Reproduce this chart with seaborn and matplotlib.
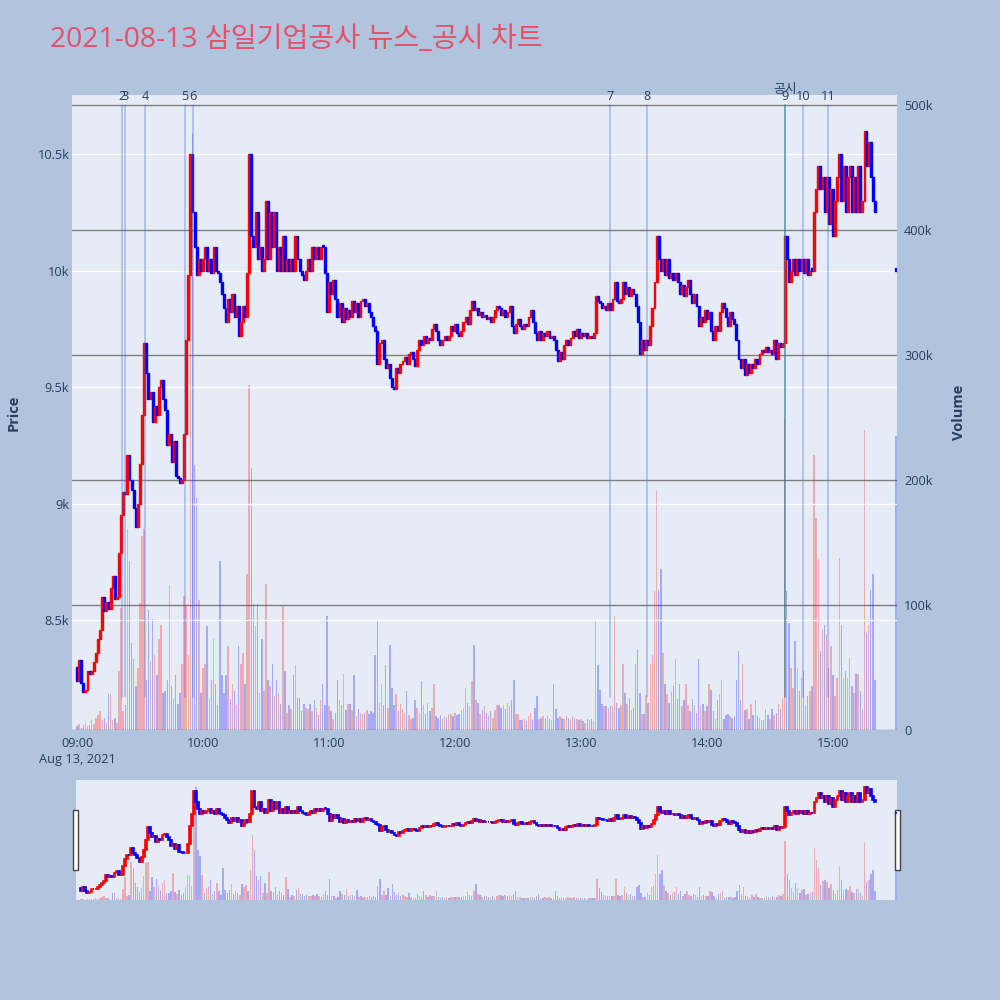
import numpy as np
import pandas as pd
import matplotlib
matplotlib.use("Agg")
import matplotlib.pyplot as plt
import matplotlib.transforms as mtransforms
from matplotlib.patches import Rectangle
import seaborn as sns

# ---- data: 1-minute closes (won), 09:00 .. 15:20, then the 15:30 closing auction ----
trade_date = "2021-08-13"
first_open = 8300
close_px = [
    8240, 8330, 8230, 8190, 8200, 8280, 8270, 8280, 8320, 8360,
    8420, 8460, 8600, 8540, 8580, 8550, 8640, 8690, 8590, 8600,
    8790, 8950, 9050, 9040, 9210, 9100, 9060, 8980, 8900, 9000,
    9170, 9380, 9690, 9560, 9450, 9480, 9350, 9420, 9380, 9500,
    9530, 9450, 9400, 9250, 9300, 9180, 9270, 9120, 9110, 9090,
    9100, 9300, 9700, 9980, 10500, 10250, 10100, 9980, 10050, 10000,
    10050, 10100, 10000, 10050, 9990, 10100, 10000, 9990, 9950, 9900,
    9840, 9780, 9880, 9820, 9900, 9800, 9850, 9720, 9780, 9850,
    9800, 9990, 10500, 10150, 10100, 10250, 10050, 10100, 10000, 10050,
    10300, 10050, 10250, 10100, 10250, 10000, 10100, 10000, 10150, 10000,
    10050, 10000, 10050, 10000, 10150, 10050, 10000, 9980, 9960, 10000,
    10050, 10000, 10100, 10050, 10100, 10050, 10100, 10100, 9990, 9820,
    9950, 9900, 9960, 9880, 9800, 9860, 9780, 9840, 9790, 9830,
    9800, 9870, 9820, 9860, 9800, 9870, 9880, 9850, 9860, 9820,
    9800, 9760, 9740, 9600, 9690, 9700, 9620, 9580, 9600, 9540,
    9500, 9490, 9580, 9560, 9600, 9610, 9630, 9600, 9640, 9650,
    9620, 9590, 9660, 9700, 9680, 9720, 9690, 9710, 9700, 9750,
    9770, 9740, 9700, 9680, 9700, 9720, 9700, 9720, 9760, 9740,
    9770, 9730, 9720, 9740, 9780, 9800, 9770, 9830, 9870, 9830,
    9840, 9810, 9820, 9800, 9810, 9790, 9800, 9780, 9800, 9830,
    9850, 9840, 9810, 9830, 9800, 9820, 9850, 9760, 9730, 9770,
    9790, 9760, 9750, 9770, 9760, 9800, 9830, 9780, 9730, 9700,
    9740, 9700, 9730, 9720, 9740, 9710, 9720, 9700, 9660, 9610,
    9650, 9620, 9680, 9700, 9680, 9710, 9740, 9720, 9750, 9710,
    9730, 9720, 9730, 9710, 9720, 9710, 9730, 9890, 9870, 9860,
    9840, 9850, 9830, 9860, 9830, 9880, 9950, 9870, 9860, 9880,
    9950, 9900, 9930, 9890, 9920, 9900, 9850, 9780, 9640, 9700,
    9660, 9700, 9680, 9760, 9840, 9950, 10150, 10050, 10000, 10050,
    9980, 10050, 9970, 9990, 9960, 9990, 9950, 9900, 9940, 9890,
    9930, 9960, 9900, 9860, 9900, 9850, 9760, 9800, 9780, 9830,
    9790, 9820, 9740, 9700, 9760, 9740, 9820, 9860, 9840, 9800,
    9760, 9820, 9790, 9770, 9700, 9620, 9580, 9620, 9550, 9600,
    9560, 9600, 9580, 9620, 9600, 9640, 9660, 9650, 9670, 9650,
    9660, 9640, 9700, 9620, 9690, 9670, 9690, 10150, 10050, 9950,
    10000, 10050, 9980, 10050, 10000, 10050, 9990, 10050, 9980, 10000,
    10000, 10250, 10350, 10450, 10350, 10400, 10250, 10400, 10200, 10350,
    10150, 10300, 10400, 10500, 10300, 10450, 10250, 10400, 10450, 10250,
    10400, 10250, 10450, 10250, 10300, 10600, 10450, 10550, 10400, 10300,
    10250,
]
auction_time = "15:30"
auction_px = 10000

# volume per minute, thousands of shares
volume_k = [
    3, 5, 2, 4, 6, 3, 4, 8, 5, 10,
    12, 15, 8, 10, 6, 29, 29, 8, 10, 6,
    47, 98, 15, 20, 161, 135, 70, 57, 35, 50,
    102, 155, 161, 40, 96, 55, 89, 60, 44, 73,
    84, 30, 31, 40, 116, 35, 25, 44, 21, 30,
    53, 107, 100, 60, 440, 478, 212, 186, 104, 30,
    50, 53, 83, 25, 40, 73, 37, 20, 135, 44,
    30, 44, 67, 25, 37, 31, 20, 67, 53, 62,
    37, 125, 276, 210, 101, 83, 101, 30, 73, 31,
    117, 40, 35, 53, 27, 40, 30, 21, 99, 47,
    14, 20, 17, 44, 52, 26, 26, 15, 21, 18,
    17, 21, 15, 24, 18, 12, 24, 37, 20, 91,
    19, 15, 9, 14, 40, 24, 20, 45, 16, 21,
    21, 16, 44, 11, 17, 14, 13, 14, 16, 13,
    15, 14, 60, 88, 22, 37, 20, 52, 18, 68,
    34, 20, 29, 15, 21, 17, 14, 31, 12, 9,
    10, 24, 18, 14, 39, 20, 13, 22, 15, 18,
    37, 11, 10, 12, 9, 11, 10, 13, 13, 11,
    14, 12, 13, 16, 18, 34, 22, 19, 39, 68,
    24, 22, 13, 16, 19, 14, 12, 15, 10, 16,
    20, 20, 18, 20, 17, 22, 19, 24, 40, 13,
    13, 8, 8, 9, 7, 11, 14, 8, 18, 27,
    9, 10, 11, 10, 11, 9, 8, 37, 17, 10,
    11, 10, 9, 11, 10, 9, 11, 10, 9, 8,
    9, 7, 6, 9, 8, 9, 7, 88, 52, 32,
    21, 19, 19, 18, 19, 19, 91, 22, 18, 20,
    53, 30, 21, 26, 16, 18, 53, 65, 30, 13,
    13, 28, 22, 53, 60, 111, 191, 112, 129, 62,
    37, 29, 22, 31, 35, 57, 25, 37, 19, 24,
    37, 20, 15, 25, 20, 14, 57, 19, 21, 15,
    19, 37, 32, 15, 9, 24, 29, 40, 9, 12,
    13, 11, 10, 11, 40, 63, 24, 53, 16, 17,
    9, 21, 12, 24, 11, 10, 8, 8, 17, 12,
    9, 17, 12, 14, 21, 17, 26, 250, 111, 86,
    50, 34, 71, 50, 31, 42, 47, 20, 27, 31,
    35, 220, 170, 137, 63, 81, 84, 76, 50, 67,
    44, 27, 42, 138, 84, 42, 47, 42, 58, 35,
    30, 45, 45, 31, 17, 240, 78, 84, 112, 125,
    40,
]
auction_volume_k = 235

# news / disclosure events
news_labels = ["2", "3", "4", "5", "6", "7", "8", "9", "10", "11"]
news_times = ["09:21:20", "09:22:55", "09:32:25", "09:51:25", "09:55:25",
              "13:13:50", "13:31:35", "14:37:05", "14:45:35", "14:57:30"]
disclosure_label = "공시"
disclosure_time = "14:37:05"

price_ticks = [8500, 9000, 9500, 10000, 10500]
price_tick_labels = ["8.5k", "9k", "9.5k", "10k", "10.5k"]
volume_ticks = [0, 100000, 200000, 300000, 400000, 500000]
volume_tick_labels = ["0", "100k", "200k", "300k", "400k", "500k"]
hour_ticks = ["09:00", "10:00", "11:00", "12:00", "13:00", "14:00", "15:00"]

# ---- prepare ----
start = pd.Timestamp(f"{trade_date} 09:00")
times = pd.date_range(start, periods=len(close_px), freq="min")
times = times.append(pd.DatetimeIndex([pd.Timestamp(f"{trade_date} {auction_time}")]))
df = pd.DataFrame({"time": times})
df["minute"] = (df["time"] - start).dt.total_seconds() / 60
df["close"] = close_px + [auction_px]
df["open"] = [first_open] + close_px[:-1] + [auction_px]
df["volume"] = np.array(volume_k + [auction_volume_k]) * 1000
df["up"] = df["close"] > df["open"]
df["body_low"] = df[["open", "close"]].min(axis=1)
df["body_h"] = (df["close"] - df["open"]).abs().clip(lower=9)

def to_min(t):
    return (pd.Timestamp(f"{trade_date} {t}") - start).total_seconds() / 60

news_min = [to_min(t) for t in news_times]
disc_min = to_min(disclosure_time)

# ---- style ----
BG = "#b0c4de"
PLOT_BG = "#e5ecf6"
FONT_C = "#2a3f5f"
sns.set_theme(style="darkgrid", rc={"axes.facecolor": PLOT_BG, "figure.facecolor": BG,
                                    "grid.color": "white", "grid.linewidth": 1.0})
plt.rcParams["font.family"] = ["Open Sans", "Noto Sans CJK KR", "DejaVu Sans"]

fig = plt.figure(figsize=(10, 10), dpi=100)
fig.patch.set_facecolor(BG)

ax = fig.add_axes([0.072, 0.27, 0.825, 0.635])
axv = ax.twinx()
ax.set_zorder(axv.get_zorder() + 1)
ax.patch.set_visible(False)
axv.patch.set_visible(True)
axv.set_facecolor(PLOT_BG)

XMIN, XMAX = -2.4, 390.5
PMIN, PMAX = 8029, 10753
VMAX = 508000

def draw(a_p, a_v, edge_lw=1.0, vol_w=0.7):
    cols = np.where(df["up"], "red", "blue")
    a_v.bar(df["minute"], df["volume"], width=vol_w, color=cols, alpha=0.28, linewidth=0)
    a_p.bar(df["minute"], df["body_h"], bottom=df["body_low"], width=0.9,
            color=cols, edgecolor=cols, linewidth=edge_lw)
    a_p.set_xlim(XMIN, XMAX)
    a_p.set_ylim(PMIN, PMAX)
    a_v.set_ylim(0, VMAX)

draw(ax, axv)

# grids / ticks
ax.set_yticks(price_ticks)
ax.set_yticklabels(price_tick_labels)
ax.grid(axis="y", color="white", lw=1)
ax.grid(axis="x", visible=False)
axv.set_yticks(volume_ticks)
axv.set_yticklabels(volume_tick_labels)
axv.grid(axis="y", color="#7f7f7f", lw=1)
axv.grid(axis="x", visible=False)

xt = [to_min(h) for h in hour_ticks]
ax.set_xticks(xt)
ax.set_xticklabels([hour_ticks[0] + "\nAug 13, 2021"] + hour_ticks[1:], linespacing=1.3)
for a in (ax, axv):
    for s in a.spines.values():
        s.set_visible(False)
    a.tick_params(length=0, labelsize=9.2, labelcolor=FONT_C)
ax.tick_params(axis="y", pad=2)
ax.tick_params(axis="x", pad=5)
axv.tick_params(axis="y", pad=5)
for lbl in ax.get_xticklabels():
    lbl.set_verticalalignment("top")

ax.set_ylabel("Price", fontsize=10.5, fontweight="bold", color=FONT_C, labelpad=12)
axv.set_ylabel("Volume", fontsize=10.5, fontweight="bold", color=FONT_C, labelpad=14)

# news lines
trans = mtransforms.blended_transform_factory(ax.transData, ax.transAxes)
y_lo, y_hi = (730 - 697) / 635, (730 - 105) / 635
ax.axvline(disc_min, ymin=y_lo, ymax=y_hi, color="#2e8b57", alpha=0.55, lw=1.2, zorder=1)
for m, lab in zip(news_min, news_labels):
    ax.axvline(m, ymin=y_lo, ymax=y_hi, color="royalblue", alpha=0.4, lw=1.1, zorder=1)
    ax.text(m, (730 - 97) / 635, lab, transform=trans, ha="center", va="center",
            fontsize=9.2, color=FONT_C, clip_on=False)
ax.text(disc_min, (730 - 90) / 635, disclosure_label, transform=trans, ha="center",
        va="center", fontsize=9.2, color=FONT_C, clip_on=False)

# title
fig.text(0.05, 0.96, f"{trade_date} 삼일기업공사 뉴스_공시 차트", fontsize=20.3,
         color="#e8506a", ha="left", va="center")

# ---- range slider ----
axs = fig.add_axes([0.076, 0.10, 0.821, 0.12])
axsv = axs.twinx()
axs.set_zorder(axsv.get_zorder() + 1)
axs.patch.set_visible(False)
axsv.patch.set_visible(True)
axsv.set_facecolor(PLOT_BG)
draw(axs, axsv, edge_lw=1.2, vol_w=0.7)
for a in (axs, axsv):
    a.grid(False)
    a.set_xticks([])
    a.set_yticks([])
    for s in a.spines.values():
        s.set_visible(False)
for hx in (0.073, 0.895):
    fig.add_artist(Rectangle((hx, 0.13), 0.005, 0.06, transform=fig.transFigure,
                             facecolor="white", edgecolor="#444444", lw=1))

fig.savefig("out.png", dpi=100, facecolor=BG)
